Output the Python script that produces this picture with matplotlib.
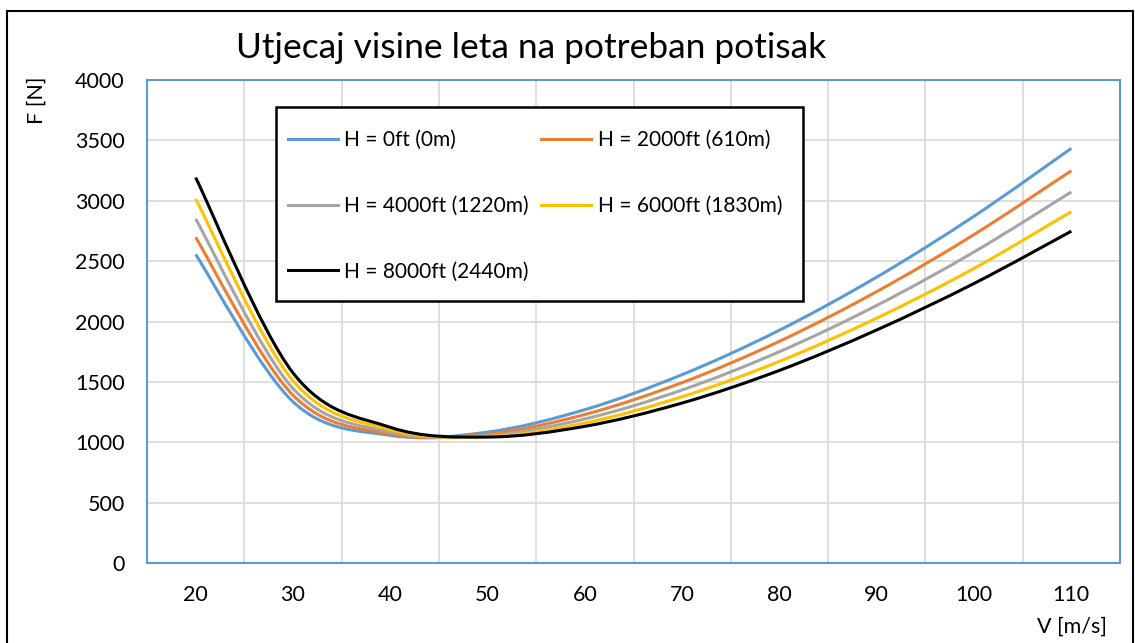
#!/usr/bin/env python3
"""
Utjecaj visine leta na potreban potisak - required thrust vs. airspeed.
"""
import matplotlib
matplotlib.use('Agg')
import matplotlib.pyplot as plt
from matplotlib.path import Path
from matplotlib.patches import PathPatch, Rectangle
from matplotlib.lines import Line2D

# ------------------------------
# Data
# ------------------------------
V = [20, 30, 40, 50, 60, 70, 80, 90, 100, 110]

F_0ft    = [2556, 1336, 1057, 1084, 1270, 1560, 1928, 2368, 2872, 3434]
F_2000ft = [2697, 1390, 1068, 1068, 1230, 1494, 1836, 2248, 2720, 3249]
F_4000ft = [2850, 1446, 1084, 1056, 1193, 1433, 1750, 2133, 2576, 3073]
F_6000ft = [3015, 1510, 1104, 1047, 1160, 1377, 1670, 2028, 2440, 2910]
F_8000ft = [3192, 1575, 1124, 1043, 1132, 1325, 1595, 1930, 2315, 2748]

labels = ['H = 0ft (0m)', 'H = 2000ft (610m)', 'H = 4000ft (1220m)',
          'H = 6000ft (1830m)', 'H = 8000ft (2440m)']
colors = ['#5B9BD5', '#ED7D31', '#A5A5A5', '#FFC000', '#000000']
series = [F_0ft, F_2000ft, F_4000ft, F_6000ft, F_8000ft]

x_ticks = [20, 30, 40, 50, 60, 70, 80, 90, 100, 110]
y_ticks = [0, 500, 1000, 1500, 2000, 2500, 3000, 3500, 4000]

FONT = 'Lato'
W, H = 1135, 643


def smooth_path(x, y):
    # Excel-like smoothed line: cubic Bezier segments through every point
    pts = list(zip(x, y))
    n = len(pts)
    verts = [pts[0]]
    codes = [Path.MOVETO]
    for i in range(n - 1):
        p0 = pts[i - 1] if i > 0 else pts[i]
        p1 = pts[i]
        p2 = pts[i + 1]
        p3 = pts[i + 2] if i + 2 < n else pts[i + 1]
        c1 = (p1[0] + (p2[0] - p0[0]) / 6, p1[1] + (p2[1] - p0[1]) / 6)
        c2 = (p2[0] - (p3[0] - p1[0]) / 6, p2[1] - (p3[1] - p1[1]) / 6)
        verts += [c1, c2, p2]
        codes += [Path.CURVE4] * 3
    return Path(verts, codes)


# ------------------------------
# Figure and axes
# ------------------------------
fig = plt.figure(figsize=(W / 100, H / 100), dpi=100)
ax = fig.add_axes([147 / W, 1 - 563 / H, 973 / W, 483 / H])

for F, c in zip(series, colors):
    ax.add_patch(PathPatch(smooth_path(V, F), fill=False, edgecolor=c,
                           lw=2.2, capstyle='butt', zorder=3))

ax.set_xlim(15, 115)
ax.set_ylim(0, 4000)
ax.set_xticks(x_ticks)
ax.set_xticks([25, 35, 45, 55, 65, 75, 85, 95, 105], minor=True)
ax.set_yticks(y_ticks)
ax.tick_params(axis='both', which='both', length=0, labelsize=15.5)
ax.tick_params(axis='x', pad=16)
ax.tick_params(axis='y', pad=16)
for lab in ax.get_xticklabels() + ax.get_yticklabels():
    lab.set_fontfamily(FONT)
ax.grid(axis='y', which='major', color='#D9D9D9', lw=1.2, zorder=0)
ax.grid(axis='x', which='minor', color='#D9D9D9', lw=1.2, zorder=0)
ax.set_axisbelow(True)
for s in ax.spines.values():
    s.set_color('#5B9BD5')
    s.set_linewidth(1.5)

# ------------------------------
# Legend (box drawn separately, Excel style)
# ------------------------------
ax.add_patch(Rectangle((276 / W, 1 - 301 / H), 527 / W, 194 / H,
                       transform=fig.transFigure, facecolor='white',
                       edgecolor='black', lw=1.8, zorder=4, clip_on=False))
handles = [Line2D([], [], color=c, lw=2.2) for c in colors]
order = [0, 2, 4, 1, 3]
leg = ax.legend([handles[i] for i in order], [labels[i] for i in order],
                ncol=2, loc='upper left', frameon=False,
                bbox_to_anchor=(288 / W, 1 - 130 / H),
                bbox_transform=fig.transFigure, borderaxespad=0, borderpad=0,
                prop={'family': FONT, 'size': 15},
                handlelength=2.4, handletextpad=0.3, columnspacing=0.6,
                labelspacing=2.2)
leg.set_zorder(5)

# ------------------------------
# Titles and outer border
# ------------------------------
fig.text(531 / W, 1 - 48 / H, 'Utjecaj visine leta na potreban potisak',
         ha='center', va='center', fontsize=25.5, family=FONT)
fig.text(37 / W, 1 - 100 / H, 'F [N]', rotation=90, ha='center',
         va='center', fontsize=15.5, family=FONT)
fig.text(1072 / W, 1 - 627 / H, 'V [m/s]', ha='center', va='center',
         fontsize=15.5, family=FONT)

fig.add_artist(Rectangle((7 / W, -0.02), 1126 / W, (643 - 11) / H + 0.02,
                         transform=fig.transFigure, fill=False,
                         edgecolor='black', lw=1.5))

fig.savefig('out.png', dpi=100)
